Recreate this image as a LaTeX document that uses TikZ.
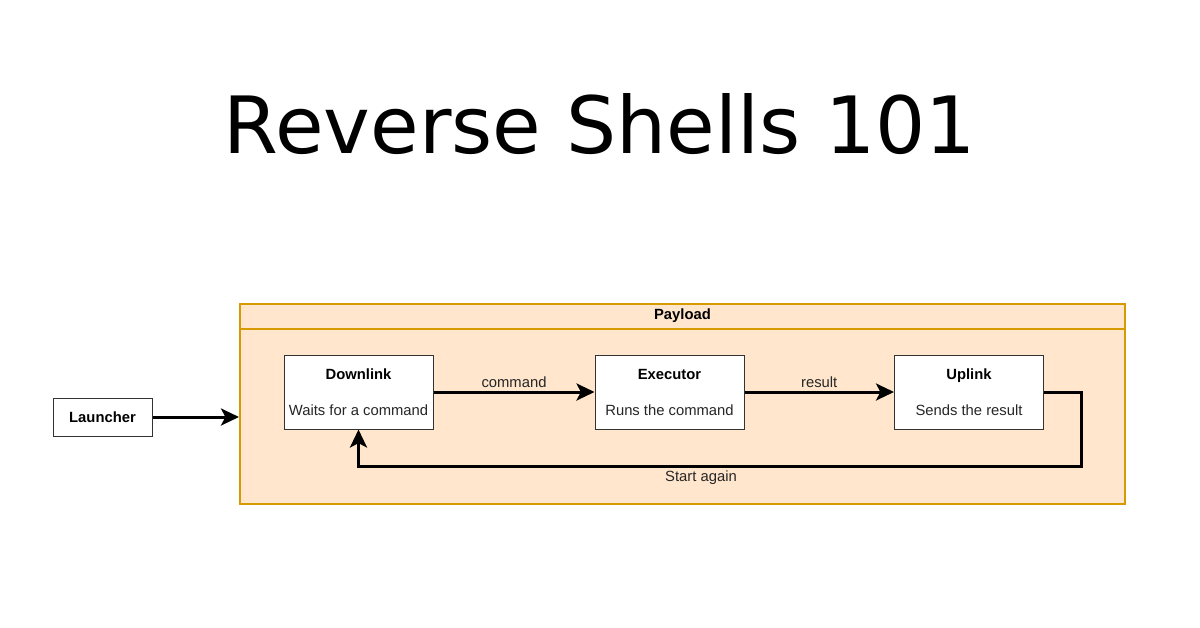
\documentclass[tikz,border=0pt]{standalone}
\usepackage{fontspec}
\setmainfont{Liberation Sans}
\newfontfamily\titlefont{DejaVu Sans}
\usetikzlibrary{arrows.meta}
\definecolor{pfill}{HTML}{FFE6CC}
\definecolor{pline}{HTML}{D79B00}
\begin{document}
\begin{tikzpicture}[x=0.5pt,y=-0.5pt,
  box/.style={draw=black!80, line width=0.5pt, fill=white, minimum width=74.5pt, minimum height=37pt, inner sep=0pt, align=center, font=\fontsize{7.4}{9}\selectfont, text=black!85},
  conn/.style={line width=1.5pt, -{Stealth[length=9pt,width=8.5pt,inset=2.2pt]}},
  lbl/.style={font=\fontsize{7.4}{9}\selectfont, text=black!85, inner sep=1pt}
]
\useasboundingbox (0,0) rectangle (1200,627);
\fill[white] (0,0) rectangle (1200,627);

\node[anchor=base] (title) at (600,153) {\titlefont\fontsize{39.5}{40}\selectfont Reverse Shells 101};

% container
\node[draw=pline, fill=pfill, line width=1pt, minimum width=442.5pt, minimum height=100pt, inner sep=0pt] (payload) at (682.5,404) {};
\draw[pline, line width=1pt] (payload.north west |- 0,329) coordinate (hl) -- (payload.north east |- 0,329) coordinate (hr);
\node[font=\fontsize{7.4}{9}\selectfont\bfseries] (ptitle) at (682.5,316) {Payload};

% launcher
\node[draw=black!80, line width=0.5pt, fill=white, minimum width=49.5pt, minimum height=19pt, inner sep=0pt, font=\fontsize{7.4}{9}\selectfont\bfseries] (launch) at (102.5,417) {Launcher};

% stages
\node[box] (down) at (358.5,392) {\textbf{\color{black}Downlink}\\[9pt]Waits for a command};
\node[box] (exec) at (669.5,392) {\textbf{\color{black}Executor}\\[9pt]Runs the command};
\node[box] (up) at (969,392) {\textbf{\color{black}Uplink}\\[9pt]Sends the result};

% connectors
\draw[conn] (launch.east) -- (launch.east -| payload.west);
\draw[conn] (down.east) -- node[lbl, above=0.5pt] (lcmd) {command} (exec.west);
\draw[conn] (exec.east) -- node[lbl, above=0.5pt] (lres) {result} (up.west);
\coordinate (loopr) at (1081,466);
\draw[conn] (up.east) -| (loopr) -| (down.south);
\node[lbl] (again) at (701,478) {Start again};
\end{tikzpicture}
\end{document}
